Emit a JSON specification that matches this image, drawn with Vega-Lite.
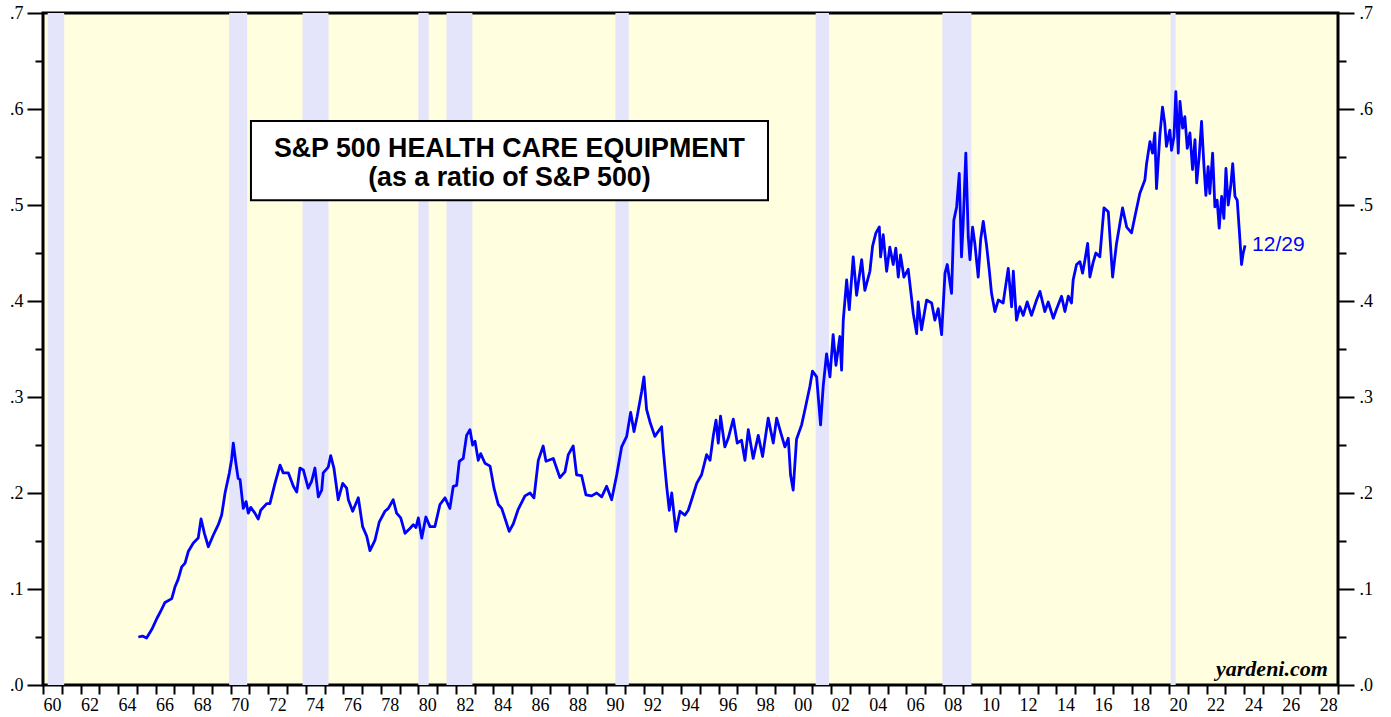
{
  "$schema": "https://vega.github.io/schema/vega-lite/v6.json",
  "width": 1295,
  "height": 672,
  "autosize": {"type": "none"},
  "padding": {"left": 43, "top": 13, "right": 53, "bottom": 32},
  "background": "white",
  "config": {
    "view": {"fill": "#ffffe0", "stroke": "black", "strokeWidth": 3}
  },
  "datasets": {
    "recessions": [
      {"start": 1960.25, "end": 1961.13},
      {"start": 1969.92, "end": 1970.88},
      {"start": 1973.83, "end": 1975.21},
      {"start": 1980.0, "end": 1980.55},
      {"start": 1981.5, "end": 1982.88},
      {"start": 1990.5, "end": 1991.21},
      {"start": 2001.17, "end": 2001.88},
      {"start": 2007.92, "end": 2009.47},
      {"start": 2020.08, "end": 2020.35}
    ],
    "series": [
      {"t": 1965.08, "v": 0.050}, {"t": 1965.3, "v": 0.051}, {"t": 1965.52, "v": 0.049}, {"t": 1965.8, "v": 0.058},
      {"t": 1966.06, "v": 0.069}, {"t": 1966.3, "v": 0.078}, {"t": 1966.5, "v": 0.086}, {"t": 1966.86, "v": 0.090},
      {"t": 1967.03, "v": 0.102}, {"t": 1967.2, "v": 0.110}, {"t": 1967.39, "v": 0.123}, {"t": 1967.57, "v": 0.127},
      {"t": 1967.74, "v": 0.139}, {"t": 1968.01, "v": 0.148}, {"t": 1968.27, "v": 0.153}, {"t": 1968.42, "v": 0.173},
      {"t": 1968.6, "v": 0.158}, {"t": 1968.81, "v": 0.144}, {"t": 1969.07, "v": 0.156}, {"t": 1969.34, "v": 0.167},
      {"t": 1969.52, "v": 0.177}, {"t": 1969.7, "v": 0.200}, {"t": 1969.93, "v": 0.221}, {"t": 1970.05, "v": 0.235},
      {"t": 1970.14, "v": 0.252}, {"t": 1970.27, "v": 0.232}, {"t": 1970.4, "v": 0.215}, {"t": 1970.5, "v": 0.214},
      {"t": 1970.67, "v": 0.184}, {"t": 1970.82, "v": 0.191}, {"t": 1970.94, "v": 0.179}, {"t": 1971.07, "v": 0.185},
      {"t": 1971.29, "v": 0.179}, {"t": 1971.47, "v": 0.173}, {"t": 1971.6, "v": 0.182}, {"t": 1971.92, "v": 0.189},
      {"t": 1972.09, "v": 0.189}, {"t": 1972.36, "v": 0.210}, {"t": 1972.63, "v": 0.229}, {"t": 1972.8, "v": 0.221},
      {"t": 1973.07, "v": 0.221}, {"t": 1973.34, "v": 0.207}, {"t": 1973.52, "v": 0.201}, {"t": 1973.69, "v": 0.226},
      {"t": 1973.87, "v": 0.224}, {"t": 1974.13, "v": 0.205}, {"t": 1974.31, "v": 0.212}, {"t": 1974.49, "v": 0.226},
      {"t": 1974.67, "v": 0.196}, {"t": 1974.85, "v": 0.203}, {"t": 1974.93, "v": 0.221}, {"t": 1975.2, "v": 0.227},
      {"t": 1975.33, "v": 0.239}, {"t": 1975.5, "v": 0.226}, {"t": 1975.73, "v": 0.193}, {"t": 1975.97, "v": 0.210},
      {"t": 1976.18, "v": 0.205}, {"t": 1976.27, "v": 0.193}, {"t": 1976.5, "v": 0.181}, {"t": 1976.8, "v": 0.195},
      {"t": 1977.03, "v": 0.165}, {"t": 1977.25, "v": 0.155}, {"t": 1977.42, "v": 0.140}, {"t": 1977.69, "v": 0.151},
      {"t": 1977.92, "v": 0.170}, {"t": 1978.22, "v": 0.181}, {"t": 1978.4, "v": 0.184}, {"t": 1978.66, "v": 0.193},
      {"t": 1978.84, "v": 0.179}, {"t": 1979.06, "v": 0.174}, {"t": 1979.29, "v": 0.158}, {"t": 1979.55, "v": 0.163},
      {"t": 1979.73, "v": 0.167}, {"t": 1979.87, "v": 0.164}, {"t": 1980.0, "v": 0.174}, {"t": 1980.18, "v": 0.153},
      {"t": 1980.4, "v": 0.175}, {"t": 1980.62, "v": 0.165}, {"t": 1980.88, "v": 0.165}, {"t": 1981.15, "v": 0.188},
      {"t": 1981.42, "v": 0.195}, {"t": 1981.68, "v": 0.184}, {"t": 1981.86, "v": 0.207}, {"t": 1982.04, "v": 0.208},
      {"t": 1982.18, "v": 0.233}, {"t": 1982.39, "v": 0.236}, {"t": 1982.57, "v": 0.260}, {"t": 1982.75, "v": 0.266},
      {"t": 1982.89, "v": 0.250}, {"t": 1983.02, "v": 0.254}, {"t": 1983.19, "v": 0.234}, {"t": 1983.32, "v": 0.241},
      {"t": 1983.55, "v": 0.231}, {"t": 1983.82, "v": 0.228}, {"t": 1984.03, "v": 0.205}, {"t": 1984.26, "v": 0.188},
      {"t": 1984.44, "v": 0.184}, {"t": 1984.61, "v": 0.174}, {"t": 1984.84, "v": 0.160}, {"t": 1985.06, "v": 0.168},
      {"t": 1985.32, "v": 0.183}, {"t": 1985.68, "v": 0.197}, {"t": 1985.95, "v": 0.200}, {"t": 1986.16, "v": 0.195},
      {"t": 1986.39, "v": 0.234}, {"t": 1986.65, "v": 0.249}, {"t": 1986.8, "v": 0.233}, {"t": 1987.19, "v": 0.236},
      {"t": 1987.54, "v": 0.216}, {"t": 1987.81, "v": 0.222}, {"t": 1987.99, "v": 0.240}, {"t": 1988.25, "v": 0.249},
      {"t": 1988.43, "v": 0.219}, {"t": 1988.7, "v": 0.218}, {"t": 1988.93, "v": 0.198}, {"t": 1989.23, "v": 0.197},
      {"t": 1989.5, "v": 0.200}, {"t": 1989.77, "v": 0.196}, {"t": 1990.03, "v": 0.207}, {"t": 1990.3, "v": 0.193},
      {"t": 1990.57, "v": 0.219}, {"t": 1990.83, "v": 0.248}, {"t": 1991.1, "v": 0.259}, {"t": 1991.31, "v": 0.284},
      {"t": 1991.49, "v": 0.264}, {"t": 1991.66, "v": 0.280}, {"t": 1991.9, "v": 0.306}, {"t": 1992.02, "v": 0.321},
      {"t": 1992.16, "v": 0.287}, {"t": 1992.34, "v": 0.274}, {"t": 1992.6, "v": 0.259}, {"t": 1992.78, "v": 0.264},
      {"t": 1992.96, "v": 0.269}, {"t": 1993.05, "v": 0.245}, {"t": 1993.23, "v": 0.207}, {"t": 1993.37, "v": 0.182},
      {"t": 1993.5, "v": 0.200}, {"t": 1993.72, "v": 0.160}, {"t": 1993.94, "v": 0.181}, {"t": 1994.2, "v": 0.177},
      {"t": 1994.38, "v": 0.182}, {"t": 1994.56, "v": 0.193}, {"t": 1994.83, "v": 0.210}, {"t": 1995.09, "v": 0.219},
      {"t": 1995.36, "v": 0.240}, {"t": 1995.54, "v": 0.234}, {"t": 1995.71, "v": 0.259}, {"t": 1995.86, "v": 0.276},
      {"t": 1995.98, "v": 0.252}, {"t": 1996.1, "v": 0.280}, {"t": 1996.33, "v": 0.248}, {"t": 1996.51, "v": 0.257},
      {"t": 1996.78, "v": 0.277}, {"t": 1996.99, "v": 0.252}, {"t": 1997.22, "v": 0.255}, {"t": 1997.4, "v": 0.234},
      {"t": 1997.58, "v": 0.266}, {"t": 1997.84, "v": 0.236}, {"t": 1998.11, "v": 0.260}, {"t": 1998.34, "v": 0.238},
      {"t": 1998.64, "v": 0.278}, {"t": 1998.91, "v": 0.252}, {"t": 1999.09, "v": 0.278}, {"t": 1999.35, "v": 0.260},
      {"t": 1999.53, "v": 0.248}, {"t": 1999.71, "v": 0.257}, {"t": 1999.83, "v": 0.219}, {"t": 1999.97, "v": 0.203},
      {"t": 2000.15, "v": 0.256}, {"t": 2000.42, "v": 0.271}, {"t": 2000.6, "v": 0.287}, {"t": 2000.86, "v": 0.311},
      {"t": 2001.0, "v": 0.327}, {"t": 2001.22, "v": 0.321}, {"t": 2001.43, "v": 0.271}, {"t": 2001.57, "v": 0.311},
      {"t": 2001.75, "v": 0.345}, {"t": 2001.93, "v": 0.321}, {"t": 2002.1, "v": 0.365}, {"t": 2002.25, "v": 0.333},
      {"t": 2002.46, "v": 0.363}, {"t": 2002.55, "v": 0.328}, {"t": 2002.64, "v": 0.380}, {"t": 2002.82, "v": 0.422},
      {"t": 2002.96, "v": 0.391}, {"t": 2003.17, "v": 0.446}, {"t": 2003.35, "v": 0.406}, {"t": 2003.62, "v": 0.443},
      {"t": 2003.79, "v": 0.411}, {"t": 2004.06, "v": 0.431}, {"t": 2004.2, "v": 0.457}, {"t": 2004.38, "v": 0.471},
      {"t": 2004.56, "v": 0.477}, {"t": 2004.63, "v": 0.446}, {"t": 2004.77, "v": 0.469}, {"t": 2004.95, "v": 0.431},
      {"t": 2005.12, "v": 0.456}, {"t": 2005.3, "v": 0.438}, {"t": 2005.44, "v": 0.455}, {"t": 2005.57, "v": 0.425},
      {"t": 2005.69, "v": 0.448}, {"t": 2005.87, "v": 0.425}, {"t": 2006.1, "v": 0.433}, {"t": 2006.23, "v": 0.411},
      {"t": 2006.37, "v": 0.387}, {"t": 2006.55, "v": 0.366}, {"t": 2006.63, "v": 0.399}, {"t": 2006.81, "v": 0.370},
      {"t": 2007.08, "v": 0.401}, {"t": 2007.35, "v": 0.398}, {"t": 2007.52, "v": 0.380}, {"t": 2007.7, "v": 0.392},
      {"t": 2007.88, "v": 0.365}, {"t": 2008.06, "v": 0.429}, {"t": 2008.18, "v": 0.438}, {"t": 2008.41, "v": 0.408},
      {"t": 2008.53, "v": 0.484}, {"t": 2008.68, "v": 0.498}, {"t": 2008.82, "v": 0.533}, {"t": 2008.94, "v": 0.446},
      {"t": 2009.03, "v": 0.481}, {"t": 2009.17, "v": 0.554}, {"t": 2009.3, "v": 0.467}, {"t": 2009.39, "v": 0.443},
      {"t": 2009.53, "v": 0.477}, {"t": 2009.65, "v": 0.460}, {"t": 2009.83, "v": 0.425}, {"t": 2009.96, "v": 0.464},
      {"t": 2010.1, "v": 0.483}, {"t": 2010.28, "v": 0.457}, {"t": 2010.42, "v": 0.432}, {"t": 2010.54, "v": 0.408},
      {"t": 2010.72, "v": 0.389}, {"t": 2010.9, "v": 0.401}, {"t": 2011.16, "v": 0.398}, {"t": 2011.43, "v": 0.434},
      {"t": 2011.61, "v": 0.394}, {"t": 2011.7, "v": 0.431}, {"t": 2011.87, "v": 0.380}, {"t": 2012.05, "v": 0.394},
      {"t": 2012.23, "v": 0.385}, {"t": 2012.44, "v": 0.399}, {"t": 2012.67, "v": 0.385}, {"t": 2012.94, "v": 0.401},
      {"t": 2013.12, "v": 0.410}, {"t": 2013.38, "v": 0.389}, {"t": 2013.56, "v": 0.399}, {"t": 2013.83, "v": 0.382},
      {"t": 2014.01, "v": 0.392}, {"t": 2014.27, "v": 0.405}, {"t": 2014.45, "v": 0.389}, {"t": 2014.63, "v": 0.405},
      {"t": 2014.8, "v": 0.398}, {"t": 2014.89, "v": 0.422}, {"t": 2015.07, "v": 0.438}, {"t": 2015.25, "v": 0.441},
      {"t": 2015.39, "v": 0.429}, {"t": 2015.52, "v": 0.443}, {"t": 2015.66, "v": 0.460}, {"t": 2015.78, "v": 0.425},
      {"t": 2015.95, "v": 0.440}, {"t": 2016.1, "v": 0.450}, {"t": 2016.31, "v": 0.446}, {"t": 2016.53, "v": 0.497},
      {"t": 2016.76, "v": 0.493}, {"t": 2016.99, "v": 0.425}, {"t": 2017.2, "v": 0.460}, {"t": 2017.52, "v": 0.497},
      {"t": 2017.74, "v": 0.477}, {"t": 2018.0, "v": 0.471}, {"t": 2018.18, "v": 0.488}, {"t": 2018.44, "v": 0.512},
      {"t": 2018.71, "v": 0.526}, {"t": 2018.8, "v": 0.543}, {"t": 2018.98, "v": 0.566}, {"t": 2019.12, "v": 0.554},
      {"t": 2019.24, "v": 0.575}, {"t": 2019.33, "v": 0.517}, {"t": 2019.51, "v": 0.573}, {"t": 2019.65, "v": 0.602},
      {"t": 2019.77, "v": 0.585}, {"t": 2019.86, "v": 0.561}, {"t": 2020.04, "v": 0.578}, {"t": 2020.13, "v": 0.557},
      {"t": 2020.26, "v": 0.571}, {"t": 2020.36, "v": 0.618}, {"t": 2020.49, "v": 0.554}, {"t": 2020.58, "v": 0.608},
      {"t": 2020.72, "v": 0.580}, {"t": 2020.84, "v": 0.592}, {"t": 2020.97, "v": 0.559}, {"t": 2021.11, "v": 0.575},
      {"t": 2021.25, "v": 0.537}, {"t": 2021.38, "v": 0.568}, {"t": 2021.47, "v": 0.523}, {"t": 2021.6, "v": 0.550},
      {"t": 2021.73, "v": 0.587}, {"t": 2021.86, "v": 0.540}, {"t": 2021.96, "v": 0.510}, {"t": 2022.08, "v": 0.540},
      {"t": 2022.17, "v": 0.512}, {"t": 2022.32, "v": 0.554}, {"t": 2022.44, "v": 0.498}, {"t": 2022.56, "v": 0.505},
      {"t": 2022.67, "v": 0.476}, {"t": 2022.8, "v": 0.509}, {"t": 2022.92, "v": 0.486}, {"t": 2023.03, "v": 0.538},
      {"t": 2023.15, "v": 0.500}, {"t": 2023.28, "v": 0.519}, {"t": 2023.39, "v": 0.543}, {"t": 2023.51, "v": 0.509},
      {"t": 2023.63, "v": 0.505}, {"t": 2023.74, "v": 0.474}, {"t": 2023.86, "v": 0.438}, {"t": 2023.95, "v": 0.450},
      {"t": 2024.05, "v": 0.458}
    ]
  },
  "resolve": {"axis": {"x": "independent", "y": "independent"}},
  "layer": [
    {
      "data": {"name": "recessions"},
      "mark": {"type": "rect", "color": "#e4e4fa"},
      "encoding": {
        "x": {
          "field": "start", "type": "quantitative",
          "scale": {"domain": [1960, 2029], "nice": false, "zero": false},
          "axis": {
            "values": [1960,1961,1962,1963,1964,1965,1966,1967,1968,1969,1970,1971,1972,1973,1974,1975,1976,1977,1978,1979,1980,1981,1982,1983,1984,1985,1986,1987,1988,1989,1990,1991,1992,1993,1994,1995,1996,1997,1998,1999,2000,2001,2002,2003,2004,2005,2006,2007,2008,2009,2010,2011,2012,2013,2014,2015,2016,2017,2018,2019,2020,2021,2022,2023,2024,2025,2026,2027,2028,2029],
            "title": null, "grid": false, "domain": false,
            "tickSize": 9, "tickWidth": 2, "tickColor": "black",
            "labelExpr": "(datum.value % 2 == 0 && datum.value < 2029) ? format(datum.value % 100, '02d') : ''",
            "labelOffset": 9, "labelPadding": 2, "labelOverlap": false, "labelFlush": false, "labelBound": false,
            "labelFont": "Liberation Serif", "labelFontSize": 18, "labelColor": "black"
          }
        },
        "x2": {"field": "end"}
      }
    },
    {
      "data": {"name": "series"},
      "mark": {"type": "line", "color": "#0000ff", "strokeWidth": 2.8, "strokeJoin": "round"},
      "encoding": {
        "x": {"field": "t", "type": "quantitative", "scale": {"domain": [1960, 2029], "nice": false, "zero": false}, "axis": null},
        "y": {
          "field": "v", "type": "quantitative",
          "scale": {"domain": [0, 0.7], "nice": false},
          "axis": {
            "orient": "left", "title": null, "grid": false, "domain": false,
            "values": [0, 0.05, 0.1, 0.15, 0.2, 0.25, 0.3, 0.35, 0.4, 0.45, 0.5, 0.55, 0.6, 0.65, 0.7],
            "tickSize": {"condition": {"test": "abs(datum.value*10 - round(datum.value*10)) < 0.01", "value": 16}, "value": 8},
            "tickWidth": 2, "tickColor": "black",
            "labelExpr": "abs(datum.value*10 - round(datum.value*10)) < 0.01 ? replace(format(datum.value, '.1f'), '0.', '.') : ''",
            "labelPadding": 4, "labelFont": "Liberation Serif", "labelFontSize": 18, "labelColor": "black", "labelFlush": false, "labelBound": false
          }
        }
      }
    },
    {
      "data": {"name": "series"},
      "transform": [{"filter": "datum.t > 2024"}],
      "mark": {"type": "text", "align": "left", "baseline": "middle", "dx": 7, "font": "Liberation Sans", "fontSize": 21, "color": "#0000ff"},
      "encoding": {
        "x": {"field": "t", "type": "quantitative", "scale": {"domain": [1960, 2029], "nice": false, "zero": false}, "axis": null},
        "y": {
          "field": "v", "type": "quantitative",
          "scale": {"domain": [0, 0.7], "nice": false},
          "axis": {
            "orient": "right", "title": null, "grid": false, "domain": false,
            "values": [0, 0.05, 0.1, 0.15, 0.2, 0.25, 0.3, 0.35, 0.4, 0.45, 0.5, 0.55, 0.6, 0.65, 0.7],
            "tickSize": {"condition": {"test": "abs(datum.value*10 - round(datum.value*10)) < 0.01", "value": 16}, "value": 8},
            "tickWidth": 2, "tickColor": "black",
            "labelExpr": "abs(datum.value*10 - round(datum.value*10)) < 0.01 ? replace(format(datum.value, '.1f'), '0.', '.') : ''",
            "labelPadding": 5, "labelFont": "Liberation Serif", "labelFontSize": 18, "labelColor": "black", "labelFlush": false, "labelBound": false
          }
        },
        "text": {"value": "12/29"}
      }
    },
    {
      "data": {"values": [{}]},
      "mark": {"type": "rect", "fill": "white", "stroke": "black", "strokeWidth": 2},
      "encoding": {
        "x": {"datum": 1971.08, "type": "quantitative", "scale": {"domain": [1960, 2029], "nice": false, "zero": false}, "axis": null},
        "x2": {"datum": 1998.63},
        "y": {"datum": 0.5875, "type": "quantitative", "scale": {"domain": [0, 0.7], "nice": false}, "axis": null},
        "y2": {"datum": 0.505}
      }
    },
    {
      "data": {"values": [{}]},
      "mark": {"type": "text", "align": "center", "baseline": "middle", "font": "Liberation Sans", "fontWeight": "bold", "fontSize": 26.8, "color": "black"},
      "encoding": {
        "x": {"datum": 1984.85, "type": "quantitative", "scale": {"domain": [1960, 2029], "nice": false, "zero": false}, "axis": null},
        "y": {"datum": 0.558, "type": "quantitative", "scale": {"domain": [0, 0.7], "nice": false}, "axis": null},
        "text": {"value": "S&P 500 HEALTH CARE EQUIPMENT"}
      }
    },
    {
      "data": {"values": [{}]},
      "mark": {"type": "text", "align": "center", "baseline": "middle", "font": "Liberation Sans", "fontWeight": "bold", "fontSize": 26.8, "color": "black"},
      "encoding": {
        "x": {"datum": 1984.85, "type": "quantitative", "scale": {"domain": [1960, 2029], "nice": false, "zero": false}, "axis": null},
        "y": {"datum": 0.528, "type": "quantitative", "scale": {"domain": [0, 0.7], "nice": false}, "axis": null},
        "text": {"value": "(as a ratio of S&P 500)"}
      }
    },
    {
      "data": {"values": [{}]},
      "mark": {"type": "text", "align": "right", "baseline": "middle", "font": "Liberation Serif", "fontWeight": "bold", "fontStyle": "italic", "fontSize": 22, "color": "black"},
      "encoding": {
        "x": {"datum": 2028.46, "type": "quantitative", "scale": {"domain": [1960, 2029], "nice": false, "zero": false}, "axis": null},
        "y": {"datum": 0.0167, "type": "quantitative", "scale": {"domain": [0, 0.7], "nice": false}, "axis": null},
        "text": {"value": "yardeni.com"}
      }
    }
  ]
}
